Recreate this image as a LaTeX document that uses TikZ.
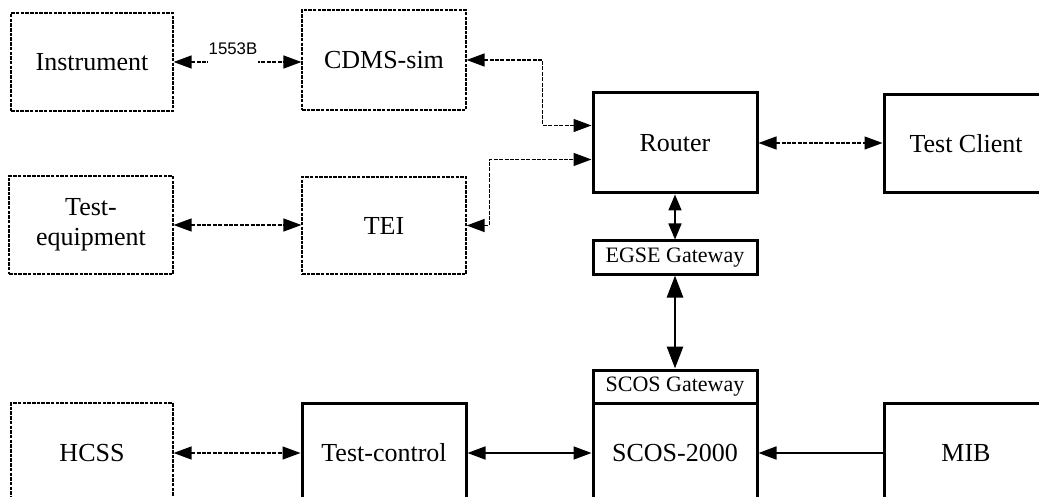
\documentclass[tikz,border=0pt]{standalone}
\usepackage{fontspec}
\setmainfont{Liberation Serif}
\newfontfamily\lsans{Liberation Sans}
\usetikzlibrary{arrows.meta,calc}
\tikzset{
  dbox/.style={draw, line width=1.2pt, dash pattern=on 3.5pt off 1.2pt, minimum width=164pt, minimum height=98pt, inner sep=0pt, align=center, font=\fontsize{26}{30}\selectfont},
  tbox/.style={draw, line width=3pt, minimum width=164pt, minimum height=100pt, inner sep=0pt, align=center, font=\fontsize{26}{30}\selectfont},
  gbox/.style={draw, line width=3pt, minimum width=164pt, minimum height=33pt, inner sep=0pt, font=\fontsize{22}{26}\selectfont},
  dconn/.style={line width=1.3pt, dash pattern=on 4pt off 1.4pt, {Triangle[length=18pt,width=13pt]}-{Triangle[length=18pt,width=13pt]}},
  sconn/.style={line width=1.7pt},
}
\begin{document}
\begin{tikzpicture}[x=1pt,y=-1pt]
\useasboundingbox (0,0) rectangle (1039,497);
\clip (0,0) rectangle (1039,497);
% dashed boxes
\node[dbox, minimum width=162pt] (instr) at (92,62) {Instrument};
\node[dbox, minimum height=100pt] (cdms) at (384,60) {CDMS-sim};
\node[dbox] (teq) at (91,225) {Test-\\equipment};
\node[dbox, minimum height=97pt] (tei) at (384,225.5) {TEI};
\node[dbox, minimum width=162pt, minimum height=100pt] (hcss) at (92,453) {HCSS};
% solid boxes
\node[tbox] (router) at (675,143) {Router};
\node[tbox, minimum height=98pt] (tclient) at (966,144) {Test Client};
\node[gbox] (egse) at (675,257.5) {EGSE Gateway};
\node[gbox] (scosgw) at (675,386.5) {SCOS Gateway};
\node[tbox] (scos) at (675,453) {SCOS-2000};
\node[tbox] (tctl) at (384,453) {Test-control};
\node[tbox] (mib) at (966,453) {MIB};
% router entry points
\coordinate (r1) at ($(router.north west)!0.33!(router.south west)$);
\coordinate (r2) at ($(router.north west)!0.66!(router.south west)$);
% connectors
\draw[dconn] (instr.east) -- (instr.east -| cdms.west);
\node[fill=white, anchor=base, inner xsep=1pt, inner ysep=1pt, text depth=9pt, font=\lsans\fontsize{16.8}{18}\selectfont] (lbl) at (233,55) {1553B};
\draw[dconn] (cdms.east) -- ++(76,0) |- (r1);
\draw[dconn] (tei.east) -- ++(23,0) |- (r2);
\draw[dconn] (teq.east) -- (teq.east -| tei.west);
\draw[dconn] (router.east) -- (router.east -| tclient.west);
\draw[sconn, {Triangle[length=16pt,width=13pt]}-{Triangle[length=16pt,width=13pt]}] (router.south) -- (egse.north);
\draw[line width=2.7pt, {Triangle[length=22pt,width=16pt]}-{Triangle[length=22pt,width=16pt]}] (egse.south) -- (scosgw.north);
\draw[dconn] (hcss.east) -- (tctl.west);
\draw[sconn, {Triangle[length=18pt,width=13pt]}-{Triangle[length=18pt,width=13pt]}] (tctl.east) -- (scos.west);
\draw[sconn, -{Triangle[length=18pt,width=13pt]}] (mib.west) -- (scos.east);
\end{tikzpicture}
\end{document}
